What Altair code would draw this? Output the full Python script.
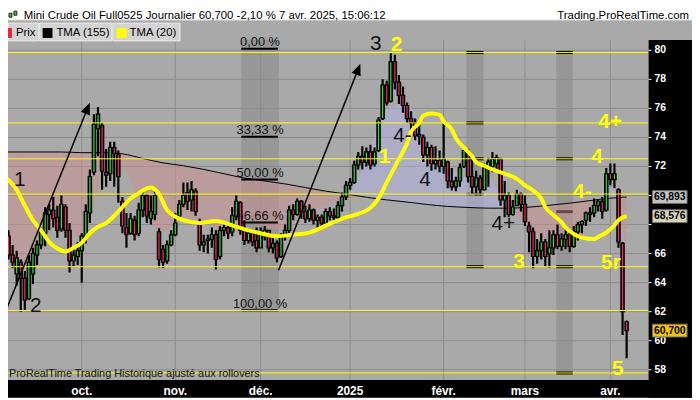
import math
import altair as alt
import pandas as pd

# ---------------- data ----------------
# bars = trading days counted from 3 Sep 2024 (index 0); first visible bar index:
first_bar = 2
opens = [
    67.2, 65.9, 64.6, 65.4, 64.3, 62.9, 64.6, 65.9, 66.6, 67.4,
    68.7, 69.0, 68.5, 67.7, 69.2, 67.6, 65.5, 65.8, 66.2, 67.1,
    68.8, 71.6, 74.6, 74.8, 71.6, 71.5, 73.3, 72.8, 69.6, 67.8,
    67.4, 68.3, 67.4, 69.0, 70.0, 68.4, 68.7, 67.5, 66.3, 65.5,
    66.6, 67.3, 68.6, 69.4, 70.2, 69.7, 70.3, 68.1, 66.6, 66.9,
    67.0, 67.3, 65.8, 67.6, 67.8, 67.5, 68.6, 69.5, 67.6, 66.9,
    67.4, 66.9, 66.4, 67.2, 67.6, 66.4, 66.7, 65.8, 67.2, 67.6,
    69.0, 68.7, 69.6, 68.9, 68.4, 69.0, 68.3, 68.5, 68.1, 68.9,
    68.6, 68.5, 69.3, 69.9, 70.7, 70.9, 72.1, 72.7, 72.3, 73.0,
    72.2, 73.1, 75.3, 77.6, 76.5, 79.2, 77.8, 76.9, 76.2, 75.3,
    75.0, 74.1, 74.0, 72.8, 73.3, 72.2, 72.4, 72.0, 72.3, 71.0,
    70.6, 71.0, 72.0, 72.9, 71.3, 70.6, 71.2, 70.4, 71.9, 72.0,
    72.2, 72.5, 69.7, 70.0, 68.7, 69.3, 70.1, 69.4, 67.9, 67.5,
    65.8, 66.2, 66.8, 66.0, 66.4, 67.3, 66.5, 67.0, 67.3, 66.5,
    67.5, 68.0, 68.3, 68.8, 68.8, 69.3, 69.6, 69.0, 71.5, 71.1,
    70.4, 66.7, 61.3,
]
highs = [
    67.6, 66.6, 66.2, 65.6, 64.8, 65.9, 66.4, 66.9, 67.8, 69.2,
    69.4, 69.9, 69.3, 70.0, 69.4, 68.1, 66.5, 66.8, 67.4, 69.4,
    71.8, 75.6, 76.1, 75.0, 73.2, 73.7, 73.7, 73.1, 69.9, 68.8,
    68.8, 68.6, 69.5, 70.35, 70.1, 70.0, 70.35, 67.75, 66.6, 66.9,
    67.6, 68.8, 69.7, 70.9, 70.9, 71.0, 70.5, 68.4, 67.3, 67.3,
    67.8, 67.6, 67.9, 68.1, 68.0, 69.2, 70.0, 69.6, 68.3, 67.7,
    67.5, 67.8, 67.8, 67.9, 67.6, 67.2, 66.9, 67.4, 68.0, 69.3,
    69.4, 69.8, 69.7, 69.3, 69.4, 69.1, 68.7, 68.7, 69.1, 69.2,
    69.1, 69.6, 70.2, 71.0, 71.2, 72.4, 73.0, 73.4, 73.3, 73.5,
    73.3, 75.4, 78.0, 77.9, 79.8, 79.7, 78.3, 77.5, 76.4, 75.8,
    75.3, 74.9, 74.2, 73.7, 73.5, 73.4, 73.1, 75.0, 72.4, 71.9,
    71.3, 72.2, 73.3, 73.2, 72.6, 71.7, 71.4, 72.2, 72.6, 73.0,
    72.8, 72.6, 71.0, 70.2, 69.7, 70.4, 70.2, 70.0, 68.2, 67.8,
    67.0, 67.4, 67.0, 67.6, 67.6, 68.0, 67.4, 67.6, 67.6, 67.9,
    68.2, 68.3, 68.9, 69.2, 69.8, 69.7, 69.9, 71.9, 72.2, 72.2,
    70.5, 66.8, 61.4,
]
lows = [
    65.6, 65.0, 63.8, 62.0, 62.1, 62.8, 63.9, 65.2, 66.3, 66.5,
    67.6, 67.8, 67.1, 67.5, 67.1, 64.7, 65.1, 65.2, 64.0, 66.7,
    68.1, 71.4, 72.7, 70.4, 70.6, 71.0, 70.6, 69.5, 67.4, 66.4,
    67.3, 66.9, 67.2, 68.5, 68.1, 68.0, 68.3, 65.05, 65.0, 65.3,
    66.5, 67.2, 68.4, 69.2, 69.0, 68.9, 68.6, 66.2, 66.1, 66.0,
    66.4, 64.9, 65.6, 67.2, 67.0, 67.2, 68.3, 67.3, 66.6, 66.7,
    66.5, 66.1, 66.4, 66.9, 66.1, 66.0, 65.4, 65.7, 66.9, 67.4,
    68.3, 68.6, 68.4, 68.1, 68.2, 68.0, 67.8, 67.9, 68.0, 68.3,
    68.3, 68.3, 68.9, 69.7, 70.4, 70.8, 71.8, 71.8, 72.0, 71.8,
    72.0, 73.0, 75.2, 76.2, 76.4, 77.3, 76.3, 75.7, 75.0, 74.4,
    73.8, 73.5, 72.3, 72.0, 71.7, 71.8, 71.6, 71.5, 70.5, 70.35,
    70.3, 70.6, 71.9, 70.9, 70.1, 70.0, 70.0, 70.35, 70.6, 71.6,
    71.8, 69.3, 68.5, 68.5, 68.6, 69.3, 68.9, 67.9, 66.1, 65.0,
    65.3, 65.6, 65.1, 65.05, 65.9, 66.3, 66.2, 66.3, 66.1, 66.4,
    66.9, 67.4, 67.9, 68.2, 68.5, 68.9, 68.4, 68.9, 70.7, 70.5,
    66.4, 60.4, 58.8,
]
closes = [
    65.9, 65.4, 65.7, 64.3, 62.8, 65.4, 66.0, 66.6, 67.5, 68.8,
    69.0, 68.4, 67.6, 69.4, 67.6, 65.5, 65.9, 66.2, 67.2, 68.9,
    71.3, 74.9, 75.6, 71.7, 71.4, 73.3, 72.9, 71.3, 67.9, 67.3,
    68.4, 67.3, 69.0, 70.0, 68.6, 68.9, 70.0, 65.6, 65.4, 66.6,
    67.3, 68.1, 69.4, 70.0, 69.6, 70.4, 68.9, 66.6, 66.8, 67.0,
    67.3, 65.6, 67.6, 67.8, 67.4, 68.6, 69.6, 67.6, 66.9, 67.4,
    66.8, 66.4, 67.5, 67.6, 66.4, 66.7, 65.7, 67.2, 67.6, 69.0,
    68.7, 69.6, 68.9, 68.4, 69.0, 68.3, 68.5, 68.1, 68.9, 68.6,
    68.5, 69.3, 69.9, 70.7, 70.9, 72.1, 72.7, 72.3, 73.0, 72.1,
    73.0, 75.2, 77.6, 76.4, 79.2, 77.8, 76.9, 76.2, 75.3, 75.0,
    74.1, 74.2, 72.8, 73.3, 72.2, 72.4, 72.0, 72.5, 71.0, 70.6,
    71.0, 71.9, 73.1, 71.3, 70.6, 71.2, 70.4, 71.9, 72.3, 72.5,
    72.6, 69.7, 70.0, 68.7, 69.2, 70.1, 69.4, 68.2, 67.5, 65.8,
    66.2, 66.8, 65.8, 66.4, 67.3, 66.5, 67.0, 67.3, 66.5, 67.5,
    68.0, 68.2, 68.8, 68.7, 69.3, 69.6, 68.9, 71.5, 71.1, 71.5,
    66.8, 62.0, 60.7,
]

# TMA (20)
tma20_i = [0, 4, 6, 8, 10, 12, 14, 16, 18, 20, 22, 24, 26, 28, 30, 32, 34, 36, 37, 39,
           41, 45, 49, 53, 57, 61, 64, 68, 72, 76, 81, 84, 87, 91, 93, 95, 98, 100, 101, 103,
           104, 106, 108, 109, 111, 112, 114, 116, 117, 119, 121, 124, 127, 129, 131, 133, 134, 136, 138, 139,
           141, 143, 146, 147, 149, 151, 152, 154]
tma20_v = [71.5, 70.4, 69.3, 68.3, 67.6, 66.8, 66.35, 66.15, 66.4, 66.75, 67.4, 67.85, 68.1, 68.6, 69.2, 69.8, 70.15, 70.5, 70.55, 70.1,
           69.0, 68.3, 68.1, 68.25, 67.95, 67.6, 67.4, 67.2, 67.3, 67.45, 68.05, 68.4, 68.65, 69.15, 69.8, 70.9, 72.5, 73.6, 74.4, 75.0,
           75.5, 75.65, 75.55, 75.1, 74.55, 73.95, 73.3, 72.7, 72.3, 72.05, 71.8, 71.5, 71.15, 70.7, 70.35, 69.8, 69.2, 68.65, 68.15, 67.8,
           67.35, 67.1, 67.0, 67.15, 67.45, 67.95, 68.3, 68.576]

# TMA (155) and the edge of the coloured zone around it
zone_i = [0, 5, 10, 15, 20, 25, 30, 35, 40, 45, 50, 55, 60, 65, 70, 75, 80, 85, 90, 95,
          100, 105, 110, 115, 120, 125, 130, 135, 140, 145, 148, 150, 151, 152, 153, 154]
tma155_v = [73.0, 73.0, 73.0, 73.0, 72.95, 72.95, 72.87, 72.55, 72.25, 72.05,
            71.8, 71.5, 71.2, 71.0, 70.8, 70.55, 70.3, 70.1, 69.88, 69.7,
            69.55, 69.38, 69.25, 69.18, 69.13, 69.13, 69.2, 69.33, 69.47, 69.65,
            69.76, 69.82, 69.84, 69.86, 69.88, 69.893]
zone_edge_v = [68.0, 65.5, 66.5, 68.3, 67.0, 71.0, 72.0, 69.0, 67.5, 68.5,
               68.3, 67.2, 68.2, 67.8, 67.6, 69.0, 69.3, 69.8, 72.5, 76.0,
               76.3, 73.8, 72.0, 71.3, 71.2, 69.1, 67.8, 67.0, 67.3, 68.7,
               69.8, 70.6, 70.5, 69.3, 67.6, 66.5]

month_i = [20, 43, 64, 86, 109, 129, 150]
month_lbl = ["oct.", "nov.", "déc.", "2025", "févr.", "mars", "avr."]
price_ticks = [58, 60, 62, 64, 66, 68, 70, 72, 74, 76, 78, 80]
hidden_ticks = [68, 70]   # covered by the last-value boxes in the reference

level_v = [79.85, 75.0, 72.53, 70.10, 65.10, 62.08, 57.78]

fib_v = [80.10, 74.04, 71.10, 68.14, 62.10]
fib_lbl = ["0,00 %", "33,33 %", "50,00 %", "66,66 %", "100,00 %"]
fib_from, fib_to, fib_mid = 59.23, 68.23, 63.85

band_i1 = [59.23, 114.6, 136.7]
band_i2 = [68.47, 118.8, 140.75]
band_top = [80.72, 79.85, 79.85]
band_bot = [62.06, 65.10, 57.78]
band_marks = [[], [79.85, 75.0, 72.53, 70.10, 65.10], [79.85, 72.53, 68.89, 65.10, 57.78]]

arrow_i1 = [1.55, 68.40]
arrow_v1 = [62.20, 64.86]
arrow_i2 = [21.97, 88.52]
arrow_v2 = [76.38, 79.08]

wave_txt = ["1", "2", "3", "4-", "4", "4+", "2", "1", "4+", "4", "4-", "3", "5r", "5"]
wave_i = [4.78, 8.67, 92.29, 98.85, 104.44, 123.65, 97.39, 94.48, 149.9, 146.74, 143.1, 127.54, 150.14, 151.84]
wave_v = [71.05, 62.40, 80.44, 74.11, 71.08, 68.05, 80.38, 72.68, 75.07, 72.62, 70.24, 65.43, 65.33, 58.05]
wave_kind = ["dark"] * 6 + ["light"] * 8

last_vals = [69.893, 68.576, 60.700]
last_lbls = ["69,893", "68,576", "60,700"]

# ---------------- layout / style ----------------
W, H = 648, 357
XMIN, XMAX = 1.867, 159.38
YMIN, YMAX = 57.30, 81.60
PXB = W / (XMAX - XMIN)
PXV = H / (YMAX - YMIN)
FONT = "Liberation Sans"
BG = "#a9a9a9"
UP, DOWN = "#2ee82e", "#ff2b5b"
YEL = "#ffff00"

XS = alt.Scale(domain=[XMIN, XMAX], nice=False, zero=False)
YS = alt.Scale(domain=[YMIN, YMAX], nice=False, zero=False)


def X(f):
    return alt.X(f"{f}:Q", scale=XS, axis=None)


def Y(f):
    return alt.Y(f"{f}:Q", scale=YS, axis=None)


one = pd.DataFrame({"k": [0]})


def prect(x1, x2, y1, y2, fill, stroke=None):
    kw = dict(fill=fill)
    if stroke:
        kw.update(stroke=stroke, strokeWidth=1)
    return alt.Chart(one).mark_rect(**kw).encode(
        x=alt.value(x1), x2=alt.value(x2), y=alt.value(y1), y2=alt.value(y2))


def ptext(txt, x, y, size, color="black", align="left", weight="normal", baseline="alphabetic"):
    return alt.Chart(one).mark_text(text=txt, font=FONT, fontSize=size, color=color, align=align,
                                    fontWeight=weight, baseline=baseline).encode(
        x=alt.value(x), y=alt.value(y))


layers = []

# strip behind legend row
layers.append(prect(0, 692, -7, 13, BG))

# shaded vertical bands
bands = pd.DataFrame(dict(i1=band_i1, i2=band_i2, top=band_top, bot=band_bot))
layers.append(alt.Chart(bands).mark_rect(color="#979797").encode(
    x=X("i1"), x2="i2", y=Y("top"), y2="bot"))

# grid
layers.append(alt.Chart(pd.DataFrame({"v": price_ticks})).mark_rule(color="#8c8c8c", strokeWidth=1).encode(y=Y("v")))
layers.append(alt.Chart(pd.DataFrame({"i": month_i})).mark_rule(color="#8c8c8c", strokeWidth=1).encode(
    x=X("i"), y=alt.value(13), y2=alt.value(H)))

# band tick marks
bm_rows = []
for a, b, marks in zip(band_i1, band_i2, band_marks):
    for v in marks:
        bm_rows.append(dict(i1=a, i2=b, v=v))
layers.append(alt.Chart(pd.DataFrame(bm_rows)).mark_rule(color="black", strokeWidth=3).encode(
    x=X("i1"), x2="i2", y=Y("v")))

# coloured zone between TMA(155) and its edge
zone = pd.DataFrame(dict(i=zone_i, t=tma155_v, e=zone_edge_v))
zb = alt.Chart(zone).transform_calculate(lo="min(datum.e, datum.t)", hi="max(datum.e, datum.t)")
layers.append(zb.mark_area(color="#cc8f8f", opacity=0.5, interpolate="monotone", clip=True).encode(
    x=X("i"), y=Y("t"), y2="lo"))
layers.append(zb.mark_area(color="#b2b2e8", opacity=0.5, interpolate="monotone", clip=True).encode(
    x=X("i"), y=Y("hi"), y2="t"))
layers.append(alt.Chart(zone).mark_line(color="black", strokeWidth=1, interpolate="monotone", clip=True).encode(
    x=X("i"), y=Y("t")))

# Fibonacci levels
fib = pd.DataFrame(dict(v=fib_v, lbl=fib_lbl))
fib["a"], fib["b"], fib["m"] = fib_from, fib_to, fib_mid
layers.append(alt.Chart(fib).mark_rule(color="black", strokeWidth=2).encode(x=X("a"), x2="b", y=Y("v")))
layers.append(alt.Chart(fib).mark_text(font=FONT, fontSize=13, color="#111", baseline="alphabetic", dy=-2.5).encode(
    x=X("m"), y=Y("v"), text="lbl"))

# candles
bars = pd.DataFrame(dict(i=list(range(first_bar, first_bar + len(opens))), o=opens, h=highs, l=lows, c=closes))
cb = alt.Chart(bars).transform_calculate(
    top="max(datum.o, datum.c) + 0.04",
    bot="min(datum.o, datum.c) - 0.04",
    ctop="max(datum.o, datum.c) - 0.03",
    cbot="min(datum.o, datum.c) + 0.03",
    col=f"datum.c >= datum.o ? '{UP}' : '{DOWN}'",
)
layers.append(cb.mark_rule(color="black", strokeWidth=2.2, clip=True).encode(x=X("i"), y=Y("l"), y2="h"))
layers.append(cb.mark_rule(color="black", strokeWidth=4.6, clip=True).encode(x=X("i"), y=Y("top"), y2="bot"))
layers.append(cb.mark_rule(strokeWidth=1.2, clip=True).encode(
    x=X("i"), y=Y("ctop"), y2="cbot", color=alt.Color("col:N", scale=None)))

# yellow horizontal levels
layers.append(alt.Chart(pd.DataFrame({"v": level_v})).mark_rule(color=YEL, strokeWidth=1).encode(y=Y("v")))

# TMA(20)
layers.append(alt.Chart(pd.DataFrame(dict(i=tma20_i, v=tma20_v))).mark_line(
    color=YEL, strokeWidth=4, interpolate="monotone", clip=True).encode(x=X("i"), y=Y("v")))

# arrows
ar = pd.DataFrame(dict(i1=arrow_i1, v1=arrow_v1, i2=arrow_i2, v2=arrow_v2))
dxp = (ar.i2 - ar.i1) * PXB
dyp = (ar.v2 - ar.v1) * PXV
ln = (dxp ** 2 + dyp ** 2) ** 0.5
ar["ang"] = [math.degrees(math.atan2(a, b)) for a, b in zip(dxp, dyp)]
ar["hi"] = ar.i2 - 6.5 * (dxp / ln) / PXB
ar["hv"] = ar.v2 - 6.5 * (dyp / ln) / PXV
layers.append(alt.Chart(ar).mark_rule(color="black", strokeWidth=1.5, clip=True).encode(
    x=X("i1"), y=Y("v1"), x2="hi", y2="hv"))
layers.append(alt.Chart(ar).mark_point(shape="M0,-1L-0.75,0.8L0.75,0.8Z", filled=True, size=169,
                                       color="black", opacity=1).encode(
    x=X("hi"), y=Y("hv"), angle=alt.Angle("ang:Q", scale=None)))

# wave labels
wv = pd.DataFrame(dict(t=wave_txt, i=wave_i, v=wave_v, k=wave_kind))
layers.append(alt.Chart(wv).transform_filter("datum.k == 'dark'").mark_text(
    font=FONT, fontSize=21, color="#111", baseline="middle", align="center").encode(
    x=X("i"), y=Y("v"), text="t"))
layers.append(alt.Chart(wv).transform_filter("datum.k == 'light'").mark_text(
    font=FONT, fontSize=21, fontWeight="bold", color=YEL, baseline="middle", align="center").encode(
    x=X("i"), y=Y("v"), text="t"))

# footer
layers.append(ptext("ProRealTime Trading  Historique ajusté aux rollovers", 1, 354, 11, color="#111"))

# right and bottom axis areas
layers.append(prect(W, 692, 13, 375, "black"))
layers.append(prect(0, 692, H, 375, "black"))
ticks = pd.DataFrame({"v": price_ticks})
ticks["shown"] = [v not in hidden_ticks for v in price_ticks]
layers.append(alt.Chart(ticks).mark_rule(color="white", strokeWidth=1).encode(
    x=alt.value(W), x2=alt.value(W + 3), y=Y("v")))
layers.append(alt.Chart(ticks).transform_filter("datum.shown").mark_text(
    font=FONT, fontSize=10.5, fontWeight="bold", color="white", align="left", baseline="middle").encode(
    x=alt.value(W + 6), y=Y("v"), text="v:Q"))
months = pd.DataFrame(dict(i=month_i, lbl=month_lbl))
layers.append(alt.Chart(months).mark_text(font=FONT, fontSize=12, fontWeight="bold", color="white",
                                          align="center", baseline="middle").encode(
    x=X("i"), y=alt.value(H + 11), text="lbl"))

# last-value boxes
box_fill = ["#c2c2c2", "#d4d4b6", "#f5c400"]
for v, lbl, f in zip(last_vals, last_lbls, box_fill):
    d = pd.DataFrame({"v": [v], "lbl": [lbl]})
    b = alt.Chart(d).transform_calculate(a="datum.v + 0.44", b="datum.v - 0.44")
    layers.append(b.mark_rect(fill=f, stroke="#6f6f6f", strokeWidth=1).encode(
        x=alt.value(W + 4), x2=alt.value(W + 39), y=Y("a"), y2="b"))
    layers.append(alt.Chart(d).mark_text(font=FONT, fontSize=10.5, fontWeight="bold", color="black",
                                         align="center", baseline="middle").encode(
        x=alt.value(W + 21.5), y=Y("v"), text="lbl"))

# title bar
layers.append(alt.Chart(one).mark_rule(color="#c8c8c8", strokeWidth=1).encode(
    x=alt.value(0), x2=alt.value(692), y=alt.value(-7)))
layers.append(prect(1, 4, -14, -10, "#33cc33", "#222222"))
layers.append(prect(6, 9, -16, -12, "#33cc33", "#222222"))
layers.append(ptext("Mini Crude Oil Full0525 Journalier 60,700 -2,10 % 7 avr. 2025, 15:06:12", 16, -8.5, 11.5))
layers.append(ptext("Trading.ProRealTime.com", 689, -8.5, 11.5, align="right"))

# legend row
layers.append(prect(0, 31, -4, 14, "#d3d3d3", "#ececec"))
layers.append(prect(32, 105, -4, 14, "#d3d3d3", "#ececec"))
layers.append(prect(106, 174, -4, 14, "#d3d3d3", "#ececec"))
layers.append(prect(0, 4, 1, 11, "#ee2233"))
layers.append(prect(35, 45, 1, 11, "black"))
layers.append(prect(110, 120, 1, 11, YEL))
layers.append(ptext("Prix", 8, 9.5, 11.5))
layers.append(ptext("TMA (155)", 49, 9.5, 11.5))
layers.append(ptext("TMA (20)", 123, 9.5, 11.5))

chart = alt.layer(*layers).properties(
    width=W, height=H,
    padding={"left": 0, "top": 17, "right": 44, "bottom": 18},
    autosize=alt.AutoSizeParams(type="none"),
    background="white",
).configure_view(fill=BG, stroke=None)

chart.save("out.html", embed_options={"renderer": "svg", "actions": False})
